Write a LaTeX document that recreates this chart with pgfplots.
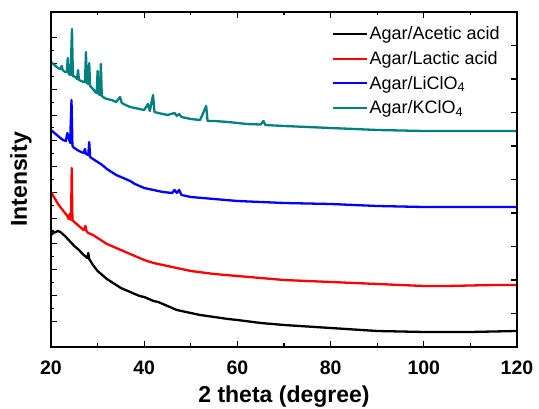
\documentclass[border=0pt]{standalone}
\usepackage{pgfplots}
\pgfplotsset{compat=1.18}
\usepackage{fontspec}
\setmainfont{Liberation Sans}
\definecolor{kteal}{RGB}{0,128,128}

\begin{document}
\begin{tikzpicture}
\begin{axis}[
  scale only axis,
  width=466pt, height=335pt,
  xmin=20, xmax=120, ymin=0, ymax=335,
  axis line style={line width=1.2pt},
  every tick/.style={black, line width=1.1pt},
  tick align=inside,
  major tick length=6pt, minor tick length=3.5pt,
  xtick={20,40,...,120}, minor x tick num=1,
  xtick pos=both,
  ytick={25.77,51.54,77.31,103.08,128.85,154.62,180.39,206.16,231.93,257.7,283.47,309.24},
  minor y tick num=1,
  ytick pos=left,
  yticklabels={},
  /pgf/number format/assume math mode=true,
  tick label style={font=\fontsize{19.5}{19.5}\selectfont\bfseries},
  xticklabel style={yshift=-10pt},
  xlabel={2 theta (degree)},
  ylabel={Intensity},
  label style={font=\fontsize{23}{23}\selectfont\bfseries},
  xlabel style={yshift=-4.5pt},
  ylabel style={yshift=9pt},
  legend style={at={(0.974,0.968)}, anchor=north east, draw=none, fill=none,
    font=\fontsize{18}{20}\selectfont, row sep=6pt},
  legend cell align=left,
  legend image code/.code={\draw[line width=2pt] (0pt,0pt) -- (34pt,0pt);},
  every axis plot/.append style={line width=2.3pt, line join=round},
]
\coordinate (bl) at (rel axis cs:0,0);
\coordinate (tr) at (rel axis cs:1,1);

% Agar / acetic acid
\addplot[black] coordinates {
(20,112) (20.5,114) (21,115) (21.5,116) (22,115) (22.5,113) (23,111) (24,106)
(25,101) (26,97) (27,92) (27.8,89) (28,94) (28.2,88) (29,82) (30,76) (31,72)
(32,68) (33,65) (34,62) (35,59) (36,57) (37,55) (38,53) (39,51) (40,50) (41,48)
(42,46) (43,45) (44,43) (45,41) (46,39) (47,37) (48,36) (50,34) (52,32) (55,30)
(58,28) (60,27) (65,24) (70,22) (75,20.5) (80,19) (85,17.5) (90,16) (95,15.5)
(100,15) (105,15) (110,15) (115,15.5) (120,16)
};
\addlegendentry{Agar/Acetic acid}

% Agar / lactic acid
\addplot[red] coordinates {
(20,155) (20.5,151) (21,147) (21.5,143) (22,140) (22.5,137) (23,134) (23.5,131)
(23.8,128) (24.0,133) (24.3,127) (24.45,179) (24.6,127) (25,125) (26,121)
(27,117) (27.4,121) (27.6,116) (28,114) (29,112) (30,109) (31,106) (32,103)
(33,101) (34,99) (35,97) (37,93) (40,87) (42,84) (45,81) (48,78) (50,76)
(55,73) (60,71) (65,69) (70,67) (75,66) (80,65) (85,64) (90,63) (95,62)
(100,61) (105,61) (110,61.5) (115,62) (120,62)
};
\addlegendentry{Agar/Lactic acid}

% Agar / LiClO4
\addplot[blue] coordinates {
(20,217) (20.5,215) (21,213) (21.5,211) (22,209) (22.6,207) (23.2,206)
(23.5,214) (23.8,209) (24.1,204) (24.4,247) (24.6,201) (25,199) (26,196)
(27,194) (27.3,198) (27.5,193) (28,192) (28.2,205) (28.4,190) (29,188)
(30,185) (31,182) (32,178) (33,175) (34,172) (35,170) (36,168) (37,166)
(38,163) (39,161) (40,159) (42,157) (44,155) (46,154) (46.5,157) (47,154)
(47.5,157) (48,152) (50,150) (55,148) (60,146) (65,145) (70,144) (80,143)
(90,141) (100,140) (110,140) (120,140)
};
\addlegendentry{Agar/LiClO\textsubscript{4}}

% Agar / KClO4
\addplot[kteal] coordinates {
(20,285) (20.5,283) (21,281) (21.5,279) (22,278) (22.3,281) (22.5,277)
(23,275) (23.4,275) (23.6,289) (23.8,273) (24.2,272) (24.5,318) (24.7,271)
(25.2,270) (25.6,268) (25.8,277) (26,267) (26.5,266) (27,265) (27.3,265)
(27.5,295) (27.7,264) (28,263) (28.2,284) (28.4,261) (29,258) (29.5,255)
(29.8,254) (30.0,276) (30.2,253) (30.5,252) (30.7,283) (30.9,251) (31.5,249)
(32,248) (33,247) (34,245) (34.8,250) (35.2,244) (36,242) (37,240) (38,239)
(39,238) (40,237) (40.8,243) (41.2,236) (41.9,252) (42.2,235) (43,234)
(45,232) (46.5,234) (47,231) (47.5,233) (48,230) (50,228) (52,227)
(53.3,241) (53.6,226) (55,226) (58,225) (60,224) (62,223) (65,222.5)
(65.6,226) (66,222) (70,221) (75,220) (80,219) (85,218) (90,217) (95,216.5)
(100,216) (110,216) (120,216)
};
\addlegendentry{Agar/KClO\textsubscript{4}}
\end{axis}

% right-hand frame ticks on their own scale
\begin{axis}[
  scale only axis,
  width=466pt, height=335pt,
  xmin=20, xmax=120, ymin=0, ymax=10,
  axis line style={line width=1.2pt},
  every tick/.style={black, line width=1.1pt},
  tick align=inside, major tick length=6pt,
  xtick=\empty,
  ytick={1,...,9}, ytick pos=right, yticklabels={},
]
\end{axis}

\pgfresetboundingbox
\path ([shift={(-51pt,-62pt)}]bl) rectangle ([shift={(22pt,12pt)}]tr);
\end{tikzpicture}
\end{document}
